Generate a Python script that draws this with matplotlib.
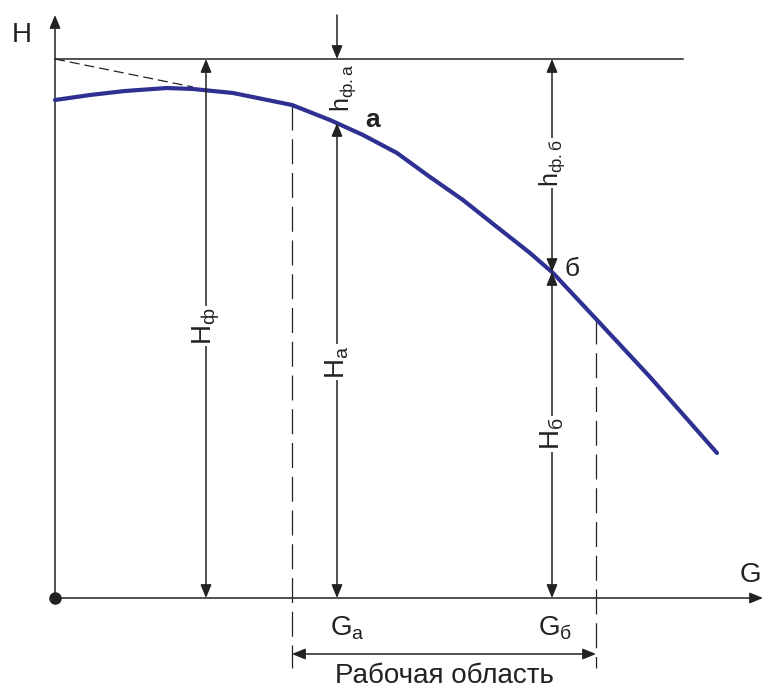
import matplotlib
matplotlib.use("Agg")
import matplotlib.pyplot as plt

plt.rcParams["font.family"] = ["Liberation Sans", "DejaVu Sans"]
plt.rcParams["mathtext.fontset"] = "custom"
plt.rcParams["mathtext.rm"] = "Liberation Sans"
plt.rcParams["mathtext.it"] = "Liberation Sans"
plt.rcParams["mathtext.bf"] = "Liberation Sans:bold"

# pump characteristic H(G) (arbitrary units)
G_CURVE = [0, 35, 70, 112, 138, 178, 237, 275, 308, 342, 375, 408, 442, 475, 498, 542, 595, 662]
H_CURVE = [498, 503, 507, 510, 509, 505, 493, 478, 463, 445, 421, 398, 371, 345, 325, 278, 221, 145]

H_F = 539                  # H_ф level
G_F_END = 628              # where the H_ф line stops
G_TANGENT = [0, 138]
H_TANGENT = [539, 511]
G_F = 151                  # where the H_ф dimension is drawn
G_A, H_A = 282, 475        # point a
G_B, H_B = 497, 326        # point б
G_WORK = [237, 541]        # рабочая область
H_WORK = [493, 279]
G_MAX, H_MAX = 708, 583    # axis ends

CURVE_COLOR = "#2e3192"
INK = "#222222"
FS = 20


def arrow(ax, x0, y0, x1, y1, style="-|>"):
    ax.annotate("", xy=(x1, y1), xytext=(x0, y0),
                arrowprops=dict(arrowstyle=f"{style},head_length=0.8,head_width=0.33",
                                color=INK, lw=1.1, shrinkA=0, shrinkB=0))


def label(ax, x, y, s, rot=0, fs=FS, **kw):
    ax.text(x, y, s, rotation=rot, ha="center", va="center", fontsize=fs, color=INK,
            bbox=dict(fc="white", ec="none", pad=1), **kw)


def main():
    fig = plt.figure(figsize=(7.66, 6.91), dpi=100)
    ax = fig.add_axes([0, 0, 1, 1])
    ax.set_xlim(-55, 711)
    ax.set_ylim(-93, 598)
    ax.axis("off")

    # axes
    arrow(ax, 0, 0, 0, H_MAX)
    arrow(ax, 0, 0, G_MAX, 0)
    ax.plot([0], [0], "o", color=INK, ms=8)
    ax.text(-33, 563, "H", fontsize=FS, ha="center", va="center", color=INK)
    ax.text(695, 23, "G", fontsize=FS, ha="center", va="center", color=INK)

    # H_ф level and tangent
    ax.plot([0, G_F_END], [H_F, H_F], color=INK, lw=1.1)
    ax.plot(G_TANGENT, H_TANGENT, color=INK, lw=0.9, ls=(0, (8, 4)))

    # working region
    for g, h in zip(G_WORK, H_WORK):
        ax.plot([g, g], [h, -70], color=INK, lw=0.9, ls=(0, (20, 7)))
    arrow(ax, G_WORK[0], -56, G_WORK[1], -56, "<|-|>")
    ax.text(sum(G_WORK) / 2, -78, "Рабочая область", fontsize=FS, ha="center", va="center", color=INK)

    # curve
    ax.plot(G_CURVE, H_CURVE, color=CURVE_COLOR, lw=3, solid_capstyle="round",
            solid_joinstyle="round", zorder=3)

    # H_ф
    arrow(ax, G_F, H_F / 2, G_F, 0)
    arrow(ax, G_F, H_F / 2, G_F, H_F)
    label(ax, G_F, 272, r"$\mathregular{H_{ф}}$", rot=90)

    # point a
    arrow(ax, G_A, H_A / 2, G_A, 0)
    arrow(ax, G_A, H_A / 2, G_A, H_A)
    label(ax, G_A, 236, r"$\mathregular{H_{а}}$", rot=90)
    arrow(ax, G_A, H_MAX, G_A, H_F)
    label(ax, G_A + 6, 510, r"$\mathregular{h_{ф.а}}$", rot=90, fs=18)
    ax.text(G_A + 36, 478, "а", fontsize=19, fontweight="bold", ha="center", va="center", color=INK)

    # point б
    arrow(ax, G_B, (H_F + H_B) / 2, G_B, H_F)
    arrow(ax, G_B, (H_F + H_B) / 2, G_B, H_B)
    label(ax, G_B, 435, r"$\mathregular{h_{ф.б}}$", rot=90, fs=18)
    arrow(ax, G_B, H_B / 2, G_B, 0)
    arrow(ax, G_B, H_B / 2, G_B, H_B)
    label(ax, G_B, 164, r"$\mathregular{H_{б}}$", rot=90)
    ax.text(G_B + 20, 329, "б", fontsize=19, ha="center", va="center", color=INK)

    # G labels
    ax.text(G_A + 10, -30, r"$\mathregular{G_{а}}$", fontsize=FS, ha="center", va="center", color=INK)
    ax.text(G_B + 3, -30, r"$\mathregular{G_{б}}$", fontsize=FS, ha="center", va="center", color=INK)

    fig.savefig("out.png", dpi=100)


if __name__ == "__main__":
    main()
